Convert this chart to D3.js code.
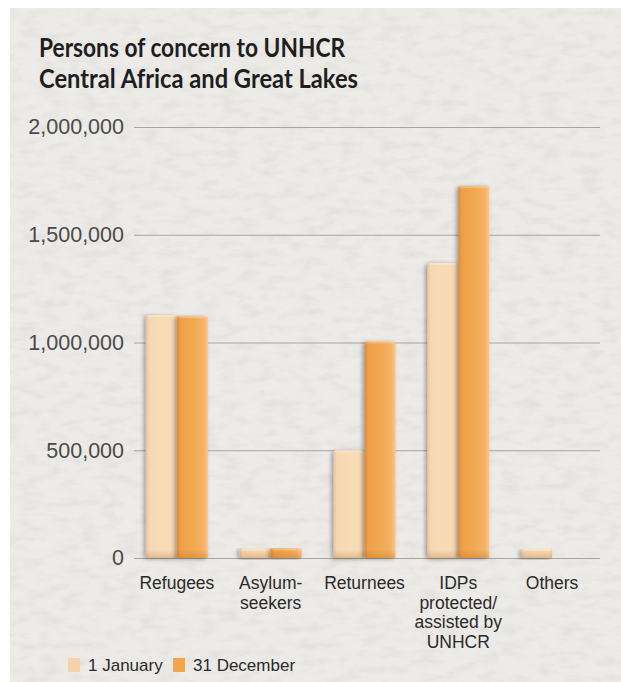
<!DOCTYPE html>
<html><head><meta charset="utf-8">
<script src="https://cdn.jsdelivr.net/npm/d3@7"></script>
<style>html,body{margin:0;padding:0;background:#fff;}svg{display:block;}</style>
</head><body>
<svg id="chart" width="621" height="682"></svg>
<script>
const categories = ["Refugees", "Asylum-seekers", "Returnees", "IDPs protected/assisted by UNHCR", "Others"];
const categoryLines = [["Refugees"], ["Asylum-", "seekers"], ["Returnees"], ["IDPs", "protected/", "assisted by", "UNHCR"], ["Others"]];
const series = ["1 January", "31 December"];
const jan = [1128000, 45000, 500000, 1369000, 42000];
const dec = [1122000, 45000, 1005000, 1726000, 0];
const yTicks = [0, 500000, 1000000, 1500000, 2000000];
const titleLines = ["Persons of concern to UNHCR", "Central Africa and Great Lakes"];

const svg = d3.select("#chart");
const defs = svg.append("defs");

// paper texture
const f = defs.append("filter").attr("id", "paper").attr("x", 0).attr("y", 0).attr("width", "100%").attr("height", "100%");
f.append("feTurbulence").attr("type", "fractalNoise").attr("baseFrequency", "0.05 0.12").attr("numOctaves", 4).attr("seed", 7).attr("result", "n");
f.append("feColorMatrix").attr("type", "matrix")
  .attr("values", "0 0 0 0 0.45  0 0 0 0 0.43  0 0 0 0 0.41  0 0 0 -1.2 0.7");
const sh = defs.append("filter").attr("id", "shadow").attr("x", "-30%").attr("y", "-10%").attr("width", "160%").attr("height", "130%");
sh.append("feGaussianBlur").attr("in", "SourceAlpha").attr("stdDeviation", 2);
sh.append("feOffset").attr("dx", -2).attr("dy", 1).attr("result", "b");
sh.append("feComponentTransfer").append("feFuncA").attr("type", "linear").attr("slope", 0.35);
const fm = sh.append("feMerge"); fm.append("feMergeNode"); fm.append("feMergeNode").attr("in", "SourceGraphic");

function hgrad(id, stops) {
  const g = defs.append("linearGradient").attr("id", id).attr("x1", 0).attr("x2", 1).attr("y1", 0).attr("y2", 0);
  stops.forEach(s => g.append("stop").attr("offset", s[0]).attr("stop-color", s[1]));
}
hgrad("gJan", [[0, "#e3c29c"], [0.1, "#f6d7b1"], [0.5, "#f8dbb7"], [0.92, "#f8dab5"], [1, "#efcfaa"]]);
hgrad("gDec", [[0, "#d98a3c"], [0.12, "#ee9f49"], [0.5, "#f2a851"], [0.85, "#f4b064"], [1, "#f7c78f"]]);
const vg = defs.append("linearGradient").attr("id", "gBottom").attr("x1", 0).attr("x2", 0).attr("y1", 0).attr("y2", 1);
vg.append("stop").attr("offset", 0).attr("stop-color", "#a05a10").attr("stop-opacity", 0);
vg.append("stop").attr("offset", 1).attr("stop-color", "#a05a10").attr("stop-opacity", 0.25);

svg.append("rect").attr("x", 10).attr("y", 8).attr("width", 611).attr("height", 674).attr("fill", "#edebe8");
svg.append("rect").attr("x", 10).attr("y", 8).attr("width", 611).attr("height", 674).attr("filter", "url(#paper)").attr("opacity", 0.3);

// title
svg.append("g").selectAll("text").data(titleLines).join("text")
  .attr("x", 39).attr("y", (d, i) => 57 + i * 31)
  .attr("textLength", (d, i) => [306, 319][i]).attr("lengthAdjust", "spacingAndGlyphs")
  .attr("font-family", "Lato, 'Open Sans', sans-serif").attr("font-weight", 700).attr("font-size", 26)
  .attr("fill", "#1e1e1e").text(d => d);

const y = d3.scaleLinear().domain([0, 2000000]).range([558, 127]);
const x = d3.scaleBand().domain(categories).range([130, 599]).paddingInner(0.34).paddingOuter(0.17);
const x1 = d3.scaleBand().domain(series).range([0, x.bandwidth()]);

// y axis labels
const yAxis = d3.axisLeft(y).tickValues(yTicks).tickFormat(d3.format(",")).tickSize(0).tickPadding(10);
const gy = svg.append("g").attr("transform", "translate(134,0)").call(yAxis);
gy.select(".domain").remove();
gy.selectAll("text").attr("font-family", "Liberation Sans, Arial, sans-serif").attr("font-size", 21.5).attr("fill", "#4a4a4a");
// gridlines
svg.append("g").selectAll("line").data(yTicks).join("line")
  .attr("x1", 134).attr("x2", 600).attr("y1", d => y(d) + 0.5).attr("y2", d => y(d) + 0.5)
  .attr("stroke", "#aaa59f").attr("stroke-width", 1.2);

// bars
const data = categories.map((c, i) => ({c, vals: [{s: series[0], v: jan[i]}, {s: series[1], v: dec[i]}]}));
const groups = svg.append("g").selectAll("g").data(data).join("g")
  .attr("transform", d => `translate(${x(d.c)},0)`);
groups.selectAll("g.bar").data(d => d.vals.filter(e => e.v > 0)).join("g").attr("class", "bar")
  .each(function (d) {
    const g = d3.select(this);
    const bx = x1(d.s), bw = x1.bandwidth(), by = y(d.v), bh = y(0) - y(d.v);
    g.append("rect").attr("x", bx).attr("y", by).attr("width", bw).attr("height", bh)
      .attr("rx", 1.5).attr("fill", d.s === series[0] ? "url(#gJan)" : "url(#gDec)").attr("filter", "url(#shadow)");
    const bb = Math.min(8, bh);
    g.append("rect").attr("x", bx).attr("y", y(0) - bb).attr("width", bw).attr("height", bb).attr("fill", "url(#gBottom)");
    g.append("rect").attr("x", bx + 1).attr("y", by).attr("width", bw - 2).attr("height", Math.min(2, bh))
      .attr("fill", "#fff").attr("opacity", 0.25);
  });

// category labels
const cl = svg.append("g").selectAll("text").data(categories).join("text")
  .attr("x", d => x(d) + x.bandwidth() / 2).attr("y", 589).attr("text-anchor", "middle")
  .attr("font-family", "Liberation Sans, Arial, sans-serif").attr("font-size", 17.5).attr("fill", "#2a2a2a");
cl.each(function (d, i) {
  d3.select(this).selectAll("tspan").data(categoryLines[i]).join("tspan")
    .attr("x", x(d) + x.bandwidth() / 2).attr("dy", (t, j) => j === 0 ? 0 : 19.5).text(t => t);
});

// legend
const lg = svg.append("g").selectAll("g").data(series).join("g")
  .attr("transform", (d, i) => `translate(${[68, 173][i]},658)`);
lg.append("rect").attr("width", 12).attr("height", 14).attr("fill", (d, i) => ["#f6d2a8", "#f2a54c"][i]);
lg.append("text").attr("x", 20).attr("y", 13).attr("font-family", "Liberation Sans, Arial, sans-serif")
  .attr("font-size", 17).attr("fill", "#2a2a2a").text(d => d);
</script>
</body></html>
